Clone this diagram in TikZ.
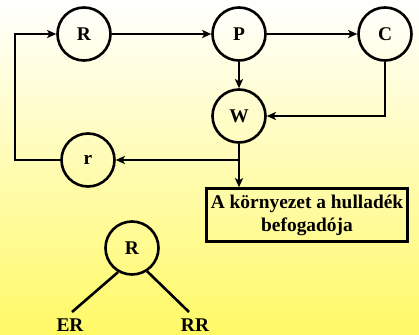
\documentclass[tikz,border=0pt]{standalone}
\usepackage{fontspec}
\setmainfont{Liberation Serif}
\usetikzlibrary{arrows.meta}
\definecolor{bgyellow}{RGB}{255,249,102}
\tikzset{
	circ/.style={draw, circle, line width=2.6pt, minimum size=53pt, inner sep=0pt},
	flow/.style={line width=2.6pt, -{Stealth[length=9pt, width=8pt, inset=2pt]}},
	plain/.style={line width=2.6pt},
}
\begin{document}
\begin{tikzpicture}[x=1pt, y=-1pt, font=\fontsize{19.4}{23}\selectfont\bfseries]
	\useasboundingbox (0, 0) rectangle (419, 334);
	\shade[top color=white, middle color=bgyellow!28!white, bottom color=bgyellow] (0, 0) rectangle (419, 334);
	
	\node[circ] (R) at (84, 34) {R};
	\node[circ] (P) at (239, 34) {P};
	\node[circ] (C) at (385, 34) {C};
	\node[circ] (W) at (239, 116) {W};
	\node[circ] (r) at (88, 160) {r};
	\node[draw, line width=2.6pt, minimum width=201pt, minimum height=53pt, inner sep=0pt, align=center] (box) at (307, 215) {A környezet a hulladék\\befogadója};
	
	\coordinate (lft) at (15, 160);
	\coordinate (jn) at (239, 160);
	
	\draw[flow] (R) -- (P);
	\draw[flow] (P) -- (C);
	\draw[flow] (P) -- (W);
	\draw[flow] (C) |- (W);
	\draw[plain] (W) -- (jn);
	\draw[flow] (jn) -- (r);
	\draw[flow] (jn) -- (jn |- box.north);
	\draw[flow] (r) -- (lft) |- (R);
	
	\node[circ] (R2) at (132, 248) {R};
	\node[anchor=base] (ER) at (70, 331) {ER};
	\node[anchor=base] (RR) at (195, 331) {RR};
	\coordinate (erend) at (72, 312);
	\coordinate (rrend) at (189, 312);
	\draw[plain] (R2.240) -- (erend);
	\draw[plain] (R2.303) -- (rrend);
\end{tikzpicture}
\end{document}
